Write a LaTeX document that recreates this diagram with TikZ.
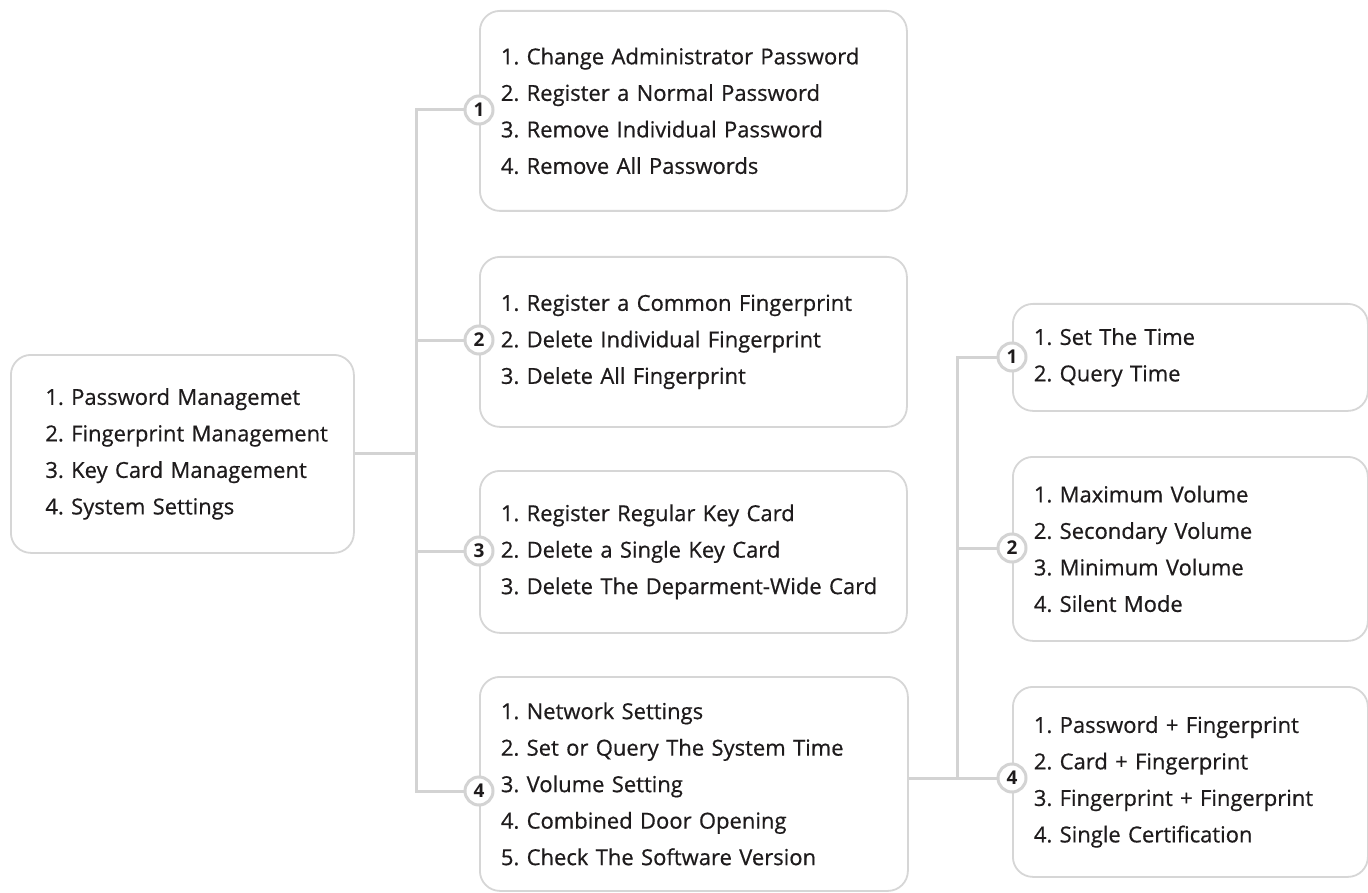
\documentclass[tikz,border=0pt]{standalone}
\usepackage{fontspec}
\setmainfont{Open Sans}
\newfontfamily\boxfont{Open Sans}[FakeBold=0.6]
\frenchspacing
\definecolor{linec}{HTML}{D3D3D3}
\definecolor{boxc}{HTML}{D6D6D6}
\definecolor{txt}{HTML}{1E1B1C}
\begin{document}
\frenchspacing
\begin{tikzpicture}[x=1pt,y=-1pt,
  box/.style={draw=boxc, line width=1.8pt, rounded corners=20pt, fill=white,
    align=left, anchor=north west, inner xsep=21pt, inner ysep=0pt,
    font=\boxfont\frenchspacing\fontsize{22}{36.5}\selectfont, text=txt},
  circ/.style={circle, draw=linec, line width=3pt, fill=white, minimum size=28pt,
    inner sep=0pt, font=\bfseries\fontsize{19}{19}\selectfont, text=txt},
  conn/.style={draw=linec, line width=3pt}]
\useasboundingbox (0,0) rectangle (1368,893);
% boxes
\node[box, inner xsep=24.5pt, text width=294pt, minimum height=198pt] (root) at (10,354)
 {\hspace*{10pt}1. Password Managemet\\\hspace*{10pt}2. Fingerprint Management\\\hspace*{10pt}3. Key Card Management\\\hspace*{10pt}4. System Settings};
\node[box, text width=385pt, minimum height=200pt] (a1) at (479,10)
 {1. Change Administrator Password\\2. Register a Normal Password\\3. Remove Individual Password\\4. Remove All Passwords};
\node[box, text width=385pt, minimum height=170pt] (a2) at (479,256)
 {1. Register a Common Fingerprint\\2. Delete Individual Fingerprint\\3. Delete All Fingerprint};
\node[box, text width=385pt, minimum height=162pt] (a3) at (479,470)
 {1. Register Regular Key Card\\2. Delete a Single Key Card\\3. Delete The Deparment-Wide Card};
\node[box, text width=386pt, minimum height=214pt] (a4) at (479,676)
 {1. Network Settings\\2. Set or Query The System Time\\3. Volume Setting\\4. Combined Door Opening\\5. Check The Software Version};
\node[box, text width=313pt, minimum height=107pt] (b1) at (1012,303)
 {1. Set The Time\\2. Query Time};
\node[box, text width=313pt, minimum height=184pt] (b2) at (1012,456)
 {1. Maximum Volume\\2. Secondary Volume\\3. Minimum Volume\\4. Silent Mode};
\node[box, text width=313pt, minimum height=190pt] (b4) at (1012,686)
 {1. Password + Fingerprint\\2. Card + Fingerprint\\3. Fingerprint + Fingerprint\\4. Single Certification};
% junctions
\coordinate (j1) at (416,453);
\coordinate (j2) at (957,778);
\coordinate (ca1) at (479,110);
\coordinate (ca2) at (479,340);
\coordinate (ca3) at (479,551);
\coordinate (ca4) at (479,791);
\coordinate (cb1) at (1012,357);
\coordinate (cb2) at (1012,548);
\coordinate (cb4) at (1012,778);
% connectors
\draw[conn] (root.east |- j1) -- (j1);
\draw[conn] (ca1) -- (ca1 -| j1) -- (ca4 -| j1) -- (ca4);
\draw[conn] (ca2) -- (ca2 -| j1);
\draw[conn] (ca3) -- (ca3 -| j1);
\draw[conn] (a4.east |- j2) -- (j2) -- (cb4);
\draw[conn] (cb1) -- (cb1 -| j2) -- (j2);
\draw[conn] (cb2) -- (cb2 -| j2);
% circles
\node[circ] (na1) at (ca1) {1};
\node[circ] (na2) at (ca2) {2};
\node[circ] (na3) at (ca3) {3};
\node[circ] (na4) at (ca4) {4};
\node[circ] (nb1) at (cb1) {1};
\node[circ] (nb2) at (cb2) {2};
\node[circ] (nb4) at (cb4) {4};
\end{tikzpicture}
\end{document}
